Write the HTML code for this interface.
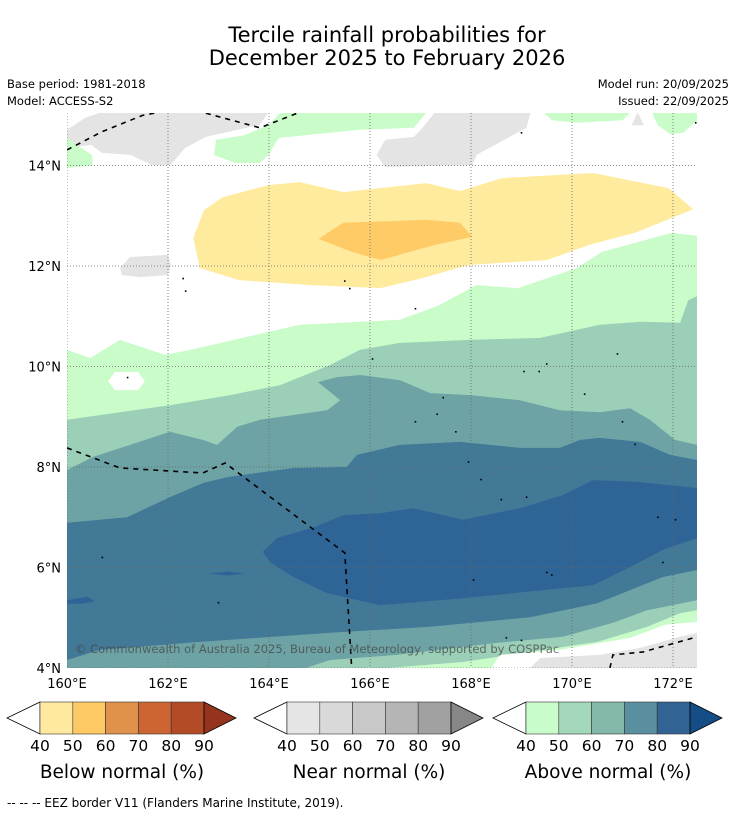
<!DOCTYPE html>
<html><head><meta charset="utf-8"><style>
body{margin:0;background:#fff;width:736px;height:816px;overflow:hidden}
svg text{font-family:"DejaVu Sans","Liberation Sans",sans-serif}
</style></head><body>
<svg id="s" width="736" height="816" viewBox="0 0 736 816" xmlns="http://www.w3.org/2000/svg">
<defs><clipPath id="mc"><rect x="67" y="113" width="630" height="555"/></clipPath></defs>
<text x="387" y="42" font-size="21" text-anchor="middle">Tercile rainfall probabilities for</text>
<text x="387" y="65" font-size="21" text-anchor="middle">December 2025 to February 2026</text>
<text x="7" y="88" font-size="11.5">Base period: 1981-2018</text>
<text x="7" y="105" font-size="11.5">Model: ACCESS-S2</text>
<text x="729" y="88" font-size="11.5" text-anchor="end">Model run: 20/09/2025</text>
<text x="729" y="105" font-size="11.5" text-anchor="end">Issued: 22/09/2025</text>
<g id="map" clip-path="url(#mc)"></g>
<g id="axes"></g>
<g id="bars"></g>
<text x="7" y="807" font-size="12">--  --  -- EEZ border V11 (Flanders Marine Institute, 2019).</text>
</svg>
<script>
const lonTicks=[160,162,164,166,168,170,172];
const latTicks=[4,6,8,10,12,14];
const greenTop=[[160,10.33],[160.46,10.17],[161.05,10.53],[161.94,10.23],[162.44,10.33],[164.61,10.83],[166.59,10.93],[167.37,11.22],[168.10,11.62],[168.93,11.56],[170.10,11.96],[170.59,12.28],[171.98,12.66],[172.48,12.60]];
const t50=[[160,8.94],[161.05,9.09],[162.04,9.23],[163.23,9.43],[164.22,9.63],[165.21,10.03],[165.80,10.33],[166.59,10.47],[167.98,10.53],[169.37,10.57],[170.55,10.83],[171.35,10.89],[172.14,10.87],[172.30,11.32],[172.48,11.40]];
const b50=[[172.48,5.15],[172.14,5.09],[171.49,4.82],[170.50,4.52],[169.17,4.32],[167.84,4.12],[166.34,4.0],[160,3.96]];
const t60=[[160,7.94],[160.51,8.20],[162.04,8.70],[162.69,8.54],[162.97,8.44],[163.37,8.80],[163.82,8.94],[165.15,9.13],[165.41,9.33],[164.97,9.69],[165.35,9.79],[165.80,9.83],[166.59,9.73],[167.19,9.47],[167.98,9.43],[168.97,9.33],[169.76,9.13],[170.55,9.09],[171.15,9.17],[171.54,8.94],[172.04,8.54],[172.48,8.44]];
const b60=[[172.48,5.35],[171.49,5.15],[170.81,4.90],[169.82,4.62],[168.51,4.50],[166.53,4.26],[165.21,4.16],[164.61,3.96],[160,3.96]];
const t70=[[160,6.89],[161.19,7.00],[162.04,7.40],[162.69,7.68],[163.17,7.80],[164.48,7.98],[165.54,8.00],[165.74,8.24],[166.59,8.44],[167.78,8.50],[168.97,8.38],[169.76,8.38],[170.16,8.54],[170.55,8.58],[171.35,8.50],[171.94,8.24],[172.48,8.14]];
const b70=[[172.48,5.95],[171.80,5.81],[171.15,5.55],[170.50,5.29],[169.17,5.01],[167.19,4.82],[165.21,4.70],[162.63,4.52],[160.65,4.36],[160,4.16]];
const p80=[[163.88,6.31],[164.16,6.59],[164.87,6.79],[165.47,7.04],[166.20,7.08],[166.85,7.18],[167.84,6.95],[168.97,7.18],[169.82,7.44],[170.42,7.74],[171.35,7.70],[172.48,7.58],[172.48,6.59],[171.80,6.35],[171.15,6.01],[170.42,5.65],[167.84,5.39],[166.20,5.25],[165.15,5.49],[164.48,5.81],[164.02,6.11]];
const yellowPoly=[[162.71,13.11],[163.08,13.37],[163.99,13.61],[164.61,13.67],[165.47,13.47],[167.12,13.65],[167.78,13.49],[168.61,13.75],[170.42,13.85],[171.91,13.55],[172.40,13.13],[171.25,12.66],[170.34,12.42],[169.51,12.12],[167.95,12.02],[167.04,11.76],[166.21,11.56],[164.81,11.62],[163.41,11.72],[162.63,11.96],[162.50,12.56]];
const orangePoly=[[164.98,12.54],[165.47,12.86],[167.12,12.92],[167.78,12.86],[168.03,12.58],[167.29,12.42],[166.21,12.12],[165.64,12.28]];
const grayA=[[160,14.71],[160.36,14.95],[160.69,15.06],[163.99,15.06],[163.82,14.81],[162.75,14.57],[162.34,14.35],[162.05,14.01],[161.68,14.01],[161.26,14.21],[160.69,14.25],[160.48,14.41],[160,14.35]];
const grayC=[[167.29,15.06],[169.18,15.06],[169.10,14.75],[168.11,14.21],[168.03,14.01],[166.30,13.97],[166.13,14.21],[166.30,14.51],[166.87,14.57],[167.04,14.75]];
const grayL=[[161.05,11.96],[161.25,12.18],[162.0,12.22],[162.06,12.02],[162.0,11.82],[161.45,11.78],[161.09,11.82]];
const grayTri=[[171.18,14.8],[171.3,15.06],[171.42,14.8]];
const grayBot=[[169.17,4.0],[169.37,4.2],[170.55,4.26],[171.35,4.40],[172.14,4.62],[172.48,4.70],[172.48,3.96]];
const greenL=[[160,14.55],[160.5,14.2],[160.5,14.0],[160,13.95]];
const greenB=[[164.23,15.06],[167.12,15.06],[166.87,14.75],[165.80,14.71],[164.19,14.55],[163.99,14.21],[163.82,14.05],[163.33,14.05],[162.91,14.21],[162.95,14.51],[163.5,14.6],[164.0,14.81]];
const greenE=[[169.43,15.06],[171.16,15.06],[171.0,14.9],[170.1,14.85],[169.6,14.9]];
const greenF=[[171.58,15.06],[172.48,15.06],[172.48,14.9],[172.2,14.65],[171.95,14.62],[171.7,14.8]];
const whiteHole=[[160.81,9.71],[160.95,9.89],[161.41,9.89],[161.54,9.71],[161.41,9.53],[160.95,9.53]];
const whiteBot=[[168.38,3.96],[168.57,4.26],[169.76,4.36],[171.15,4.60],[171.84,4.86],[172.48,4.92],[172.48,3.96]];
const blob1=[[160,5.35],[160.4,5.42],[160.55,5.33],[160.3,5.28],[160,5.28]];
const blob2=[[162.8,5.88],[163.2,5.92],[163.5,5.88],[163.2,5.84]];
const eez1=[[160,14.31],[160.69,14.67],[161.5,15.0],[161.84,15.06]];
const eez2=[[162.75,15.04],[163.82,14.75],[164.61,15.06]];
const eez3=[[160,8.38],[161.05,7.98],[162.69,7.88],[163.13,8.08],[165.50,6.29],[165.64,3.96]];
const eez4=[[170.75,4.0],[170.81,4.26],[171.41,4.32],[172.48,4.62]];
const islands=[[161.2,9.78],[162.3,11.75],[162.35,11.5],[165.5,11.7],[165.6,11.55],[166.05,10.15],[166.9,11.15],[167.45,9.38],[167.33,9.05],[167.7,8.7],[167.95,8.1],[168.2,7.75],[168.6,7.35],[169.1,7.4],[169.05,9.9],[169.35,9.9],[169.5,10.05],[170.25,9.45],[170.9,10.25],[171.0,8.9],[171.25,8.45],[171.7,7.0],[172.05,6.95],[171.8,6.1],[169.5,5.9],[169.6,5.85],[168.05,5.75],[168.7,4.6],[169.0,4.55],[166.9,8.9],[160.7,6.2],[163.0,5.3],[172.45,14.85],[169.0,14.65]];
const sx=v=>67+(v-160)*50.5;
const sy=v=>668-(v-4)*50.25;
const NS="http://www.w3.org/2000/svg";
const map=document.getElementById('map'), axes=document.getElementById('axes'), bars=document.getElementById('bars');
function pts(a){return a.map(p=>sx(p[0]).toFixed(1)+','+sy(p[1]).toFixed(1)).join(' ');}
function poly(parent,a,fill,name){const e=document.createElementNS(NS,'polygon');e.setAttribute('points',pts(a));e.setAttribute('fill',fill);


parent.appendChild(e);return e;}
function line(parent,a,name,dash,w){const e=document.createElementNS(NS,'polyline');e.setAttribute('points',pts(a));e.setAttribute('fill','none');e.setAttribute('stroke','#000');e.setAttribute('stroke-width',w);if(dash)e.setAttribute('stroke-dasharray',dash);


parent.appendChild(e);}
const bg=document.createElementNS(NS,'rect');bg.setAttribute('x',67);bg.setAttribute('y',113);bg.setAttribute('width',630);bg.setAttribute('height',555);bg.setAttribute('fill','#fff');


map.appendChild(bg);
poly(map,greenTop.concat([[172.48,3.96],[160,3.96]]),'#c9fcc9','above-40-50');
poly(map,t50.concat(b50),'#9bcfb8','above-50-60');
poly(map,t60.concat(b60),'#6ea3a6','above-60-70');
poly(map,t70.concat(b70),'#417996','above-70-80');
poly(map,p80,'#2f6496','above-80-90');
poly(map,blob1,'#2f6496','above-80-90-blob');
poly(map,blob2,'#2f6496','above-80-90-blob');
poly(map,whiteBot,'#fff','no-signal-bottom');
poly(map,grayBot,'#e4e4e4','near-normal-bottom');
poly(map,whiteHole,'#fff','no-signal-hole');
poly(map,yellowPoly,'#ffeb9e','below-40-50');
poly(map,orangePoly,'#ffcb66','below-50-60');
poly(map,grayA,'#e4e4e4','near-normal-topleft');
poly(map,grayC,'#e4e4e4','near-normal-topmid');
poly(map,grayL,'#e4e4e4','near-normal-left');
poly(map,grayTri,'#e4e4e4','near-normal-small');
poly(map,greenL,'#c9fcc9','above-40-50-topleft');
poly(map,greenB,'#c9fcc9','above-40-50-top');
poly(map,greenE,'#c9fcc9','above-40-50-topright');
poly(map,greenF,'#c9fcc9','above-40-50-corner');
lonTicks.forEach(v=>{const l=document.createElementNS(NS,'line');l.setAttribute('x1',sx(v));l.setAttribute('x2',sx(v));l.setAttribute('y1',113);l.setAttribute('y2',668);l.setAttribute('stroke','#666');l.setAttribute('stroke-width','0.8');l.setAttribute('stroke-dasharray','1,2');


map.appendChild(l);});
latTicks.forEach(v=>{const l=document.createElementNS(NS,'line');l.setAttribute('y1',sy(v));l.setAttribute('y2',sy(v));l.setAttribute('x1',67);l.setAttribute('x2',697);l.setAttribute('stroke','#666');l.setAttribute('stroke-width','0.8');l.setAttribute('stroke-dasharray','1,2');


map.appendChild(l);});
line(map,eez1,'eez-border','5,5',1.6);line(map,eez2,'eez-border','5,5',1.6);line(map,eez3,'eez-border','5,5',1.6);line(map,eez4,'eez-border','5,5',1.6);
islands.forEach(p=>{const c=document.createElementNS(NS,'rect');c.setAttribute('x',sx(p[0])-0.8);c.setAttribute('y',sy(p[1])-0.8);c.setAttribute('width',1.6);c.setAttribute('height',1.6);c.setAttribute('fill','#000');


map.appendChild(c);});
const cp=document.createElementNS(NS,'text');cp.setAttribute('x',75);cp.setAttribute('y',653);cp.setAttribute('font-size','11.5');cp.setAttribute('fill','#444');cp.setAttribute('fill-opacity','0.75');cp.textContent='© Commonwealth of Australia 2025, Bureau of Meteorology, supported by COSPPac';


map.appendChild(cp);
lonTicks.forEach(v=>{const t=document.createElementNS(NS,'text');t.setAttribute('x',sx(v));t.setAttribute('y',688);t.setAttribute('font-size','13');t.setAttribute('text-anchor','middle');t.textContent=v+'°E';


axes.appendChild(t);});
latTicks.forEach(v=>{const t=document.createElementNS(NS,'text');t.setAttribute('x',61);t.setAttribute('y',sy(v)+5);t.setAttribute('font-size','13');t.setAttribute('text-anchor','end');t.textContent=v+'°N';


axes.appendChild(t);});
const cbLabels=[40,50,60,70,80,90];
const cbTitles=['Below normal (%)','Near normal (%)','Above normal (%)'];
const cbColors=[['#fee99e','#fdc965','#e0914a','#cc6533','#b24b26','#96331e'],['#e5e5e5','#d9d9d9','#c8c8c8','#b5b5b5','#a1a1a1','#878787'],['#c9fccb','#a4d8bb','#84b8ab','#5a8fa0','#316394','#154d86']];
const cbX=[40,287,526];const cbNames=['below-normal-colorbar','near-normal-colorbar','above-normal-colorbar'];
cbX.forEach((x0,i)=>{const g=document.createElementNS(NS,'g');


bars.appendChild(g);const w=32.8,y0=702,h=32;
const lt=document.createElementNS(NS,'polygon');lt.setAttribute('points',`${x0},${y0} ${x0-33},${y0+h/2} ${x0},${y0+h}`);lt.setAttribute('fill','#fff');lt.setAttribute('stroke','#000');lt.setAttribute('stroke-width','0.8');g.appendChild(lt);
for(let k=0;k<5;k++){const r=document.createElementNS(NS,'rect');r.setAttribute('x',x0+k*w);r.setAttribute('y',y0);r.setAttribute('width',w);r.setAttribute('height',h);r.setAttribute('fill',cbColors[i][k]);r.setAttribute('stroke','#333');r.setAttribute('stroke-width','0.6');g.appendChild(r);}
const rt=document.createElementNS(NS,'polygon');rt.setAttribute('points',`${x0+5*w},${y0} ${x0+5*w+32},${y0+h/2} ${x0+5*w},${y0+h}`);rt.setAttribute('fill',cbColors[i][5]);rt.setAttribute('stroke','#000');rt.setAttribute('stroke-width','0.8');g.appendChild(rt);
cbLabels.forEach((v,k)=>{const t=document.createElementNS(NS,'text');t.setAttribute('x',x0+k*w);t.setAttribute('y',751);t.setAttribute('font-size','15.5');t.setAttribute('text-anchor','middle');t.textContent=v;


g.appendChild(t);});
const tt=document.createElementNS(NS,'text');tt.setAttribute('x',x0+2.5*w);tt.setAttribute('y',778);tt.setAttribute('font-size','18.5');tt.setAttribute('text-anchor','middle');tt.textContent=cbTitles[i];


g.appendChild(tt);});
</script>
</body></html>
